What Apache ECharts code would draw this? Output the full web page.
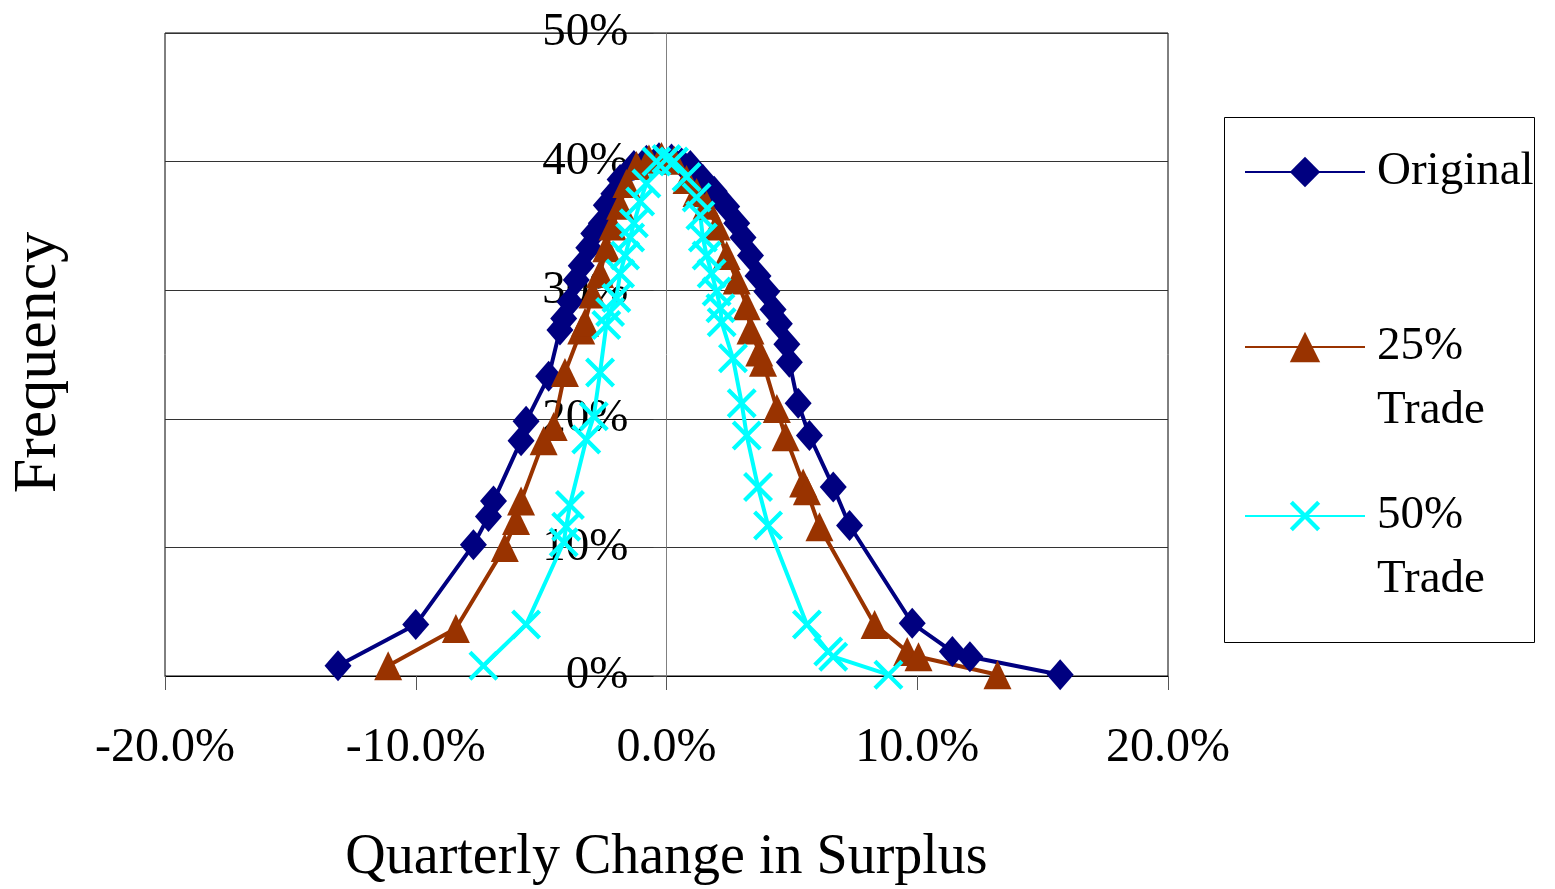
<!DOCTYPE html>
<html>
<head>
<meta charset="utf-8">
<script src="https://cdn.jsdelivr.net/npm/echarts@6/dist/echarts.min.js"></script>
<style>
html, body { margin: 0; padding: 0; background: #fff; }
#chart { width: 1555px; height: 889px; }
</style>
</head>
<body>
<div id="chart"></div>
<script>
// [quarterly change %, frequency %]
var original = [
  [-13.1, 0.8], [-10.0, 4.0], [-7.7, 10.2], [-7.1, 12.4], [-6.9, 13.6], [-5.8, 18.3],
  [-5.6, 19.8], [-4.7, 23.3], [-4.25, 26.9], [-4.1, 27.8], [-3.85, 29.1], [-3.6, 30.8],
  [-3.4, 31.9], [-3.1, 33.3], [-2.9, 34.4], [-2.6, 35.2], [-2.4, 36.6], [-2.1, 37.5],
  [-1.85, 38.6], [-1.3, 39.7], [-0.8, 40.1], [-0.3, 40.3], [0.2, 40.2], [0.6, 39.9],
  [0.95, 39.7], [1.45, 38.6], [1.9, 37.7], [2.4, 36.5], [2.8, 35.2], [3.05, 34.1],
  [3.35, 32.7], [3.65, 31.1], [4.0, 29.9], [4.25, 28.5], [4.5, 27.4], [4.8, 25.8],
  [4.9, 24.4], [5.25, 21.2], [5.7, 18.7], [6.65, 14.7], [7.3, 11.7], [9.8, 4.1],
  [11.4, 1.9], [12.1, 1.5], [15.7, 0.1]
];
var trade25 = [
  [-11.1, 0.8], [-8.4, 3.7], [-6.45, 10.0], [-6.0, 12.1], [-5.8, 13.6], [-4.9, 18.3],
  [-4.5, 19.4], [-4.05, 23.6], [-3.4, 26.9], [-3.25, 27.5], [-2.95, 29.7], [-2.65, 31.3],
  [-2.4, 33.3], [-2.15, 35.0], [-1.85, 36.6], [-1.6, 38.3], [-1.2, 39.7], [-0.7, 40.2],
  [-0.2, 40.4], [0.3, 40.1], [0.8, 38.6], [1.2, 37.6], [1.6, 36.6], [2.0, 35.0],
  [2.4, 32.7], [2.8, 30.8], [3.2, 28.8], [3.35, 26.9], [3.7, 25.2], [3.85, 24.4],
  [4.4, 20.8], [4.75, 18.6], [5.45, 15.0], [5.6, 14.4], [6.1, 11.6], [8.3, 4.0],
  [9.6, 1.9], [10.05, 1.5], [13.2, 0.1]
];
var trade50 = [
  [-7.3, 0.8], [-5.6, 4.0], [-4.1, 10.4], [-4.0, 11.6], [-3.85, 13.3], [-3.2, 18.4],
  [-2.9, 20.2], [-2.65, 23.6], [-2.4, 27.3], [-2.25, 28.3], [-2.0, 29.4], [-1.85, 31.3],
  [-1.65, 32.7], [-1.45, 34.1], [-1.3, 35.2], [-1.05, 36.9], [-0.8, 38.3], [-0.4, 40.0],
  [0.0, 40.2], [0.3, 40.0], [0.8, 38.8], [1.2, 37.2], [1.35, 35.8], [1.45, 34.1],
  [1.6, 32.7], [1.8, 31.3], [2.0, 29.9], [2.15, 28.6], [2.2, 27.5], [2.65, 24.7],
  [3.0, 21.2], [3.2, 18.7], [3.65, 14.7], [4.05, 11.7], [5.6, 4.0], [6.45, 1.9],
  [6.65, 1.5], [8.85, 0.1]
];
var seriesNames = ['Original', '25% Trade', '50% Trade'];
var seriesColors = ['#000080', '#993300', '#00FFFF'];

var font = 'Liberation Serif';
// filled "x" marker
var crossPath = 'path://M10,0L50,40L90,0L100,10L60,50L100,90L90,100L50,60L10,100L0,90L40,50L0,10Z';

var gridLeft = 165, gridWidth = 1003;

var chart = echarts.init(document.getElementById('chart'));

// one legend per item so the two-line names sit like the original box
function legendAt(name, top, twoLines) {
  return {
    data: [name],
    orient: 'vertical',
    left: 1244,
    top: top,
    padding: 0,
    itemWidth: 120,
    itemHeight: 38,
    formatter: function (n) {
      // blank first line keeps the icon level with "25%"
      return twoLines ? '\n' + n.replace(' ', '\n') : n;
    },
    textStyle: {
      fontFamily: font,
      fontSize: 47,
      color: '#000',
      lineHeight: 64,
      padding: [0, 0, 0, 7]
    }
  };
}

chart.setOption({
  animation: false,
  backgroundColor: '#fff',
  color: seriesColors,
  grid: {
    left: gridLeft, top: 33, width: gridWidth, height: 643,
    containLabel: false,
    outerBoundsMode: 'none',
    show: true, borderColor: '#000', borderWidth: 1
  },
  graphic: [{
    type: 'rect',
    shape: { x: 1224.5, y: 117.5, width: 310, height: 525 },
    style: { fill: 'none', stroke: '#000', lineWidth: 1 },
    z: -1
  }],
  legend: [
    legendAt('Original', 172 - 32, false),
    legendAt('25% Trade', 347 - 96, true),
    legendAt('50% Trade', 516 - 96, true)
  ],
  xAxis: {
    type: 'value',
    min: -20, max: 20, interval: 10,
    name: 'Quarterly Change in Surplus',
    nameLocation: 'middle',
    nameGap: 154,
    nameTextStyle: { fontFamily: font, fontSize: 56, color: '#000' },
    axisLine: { show: true, onZero: false, lineStyle: { color: '#000', width: 1 } },
    axisTick: { show: true, inside: false, length: 14, lineStyle: { color: '#555' } },
    axisLabel: {
      margin: 48,
      fontFamily: font, fontSize: 48, color: '#000',
      formatter: function (v) { return v.toFixed(1) + '%'; }
    },
    splitLine: { show: false }
  },
  yAxis: {
    type: 'value',
    min: 0, max: 50, interval: 10,
    // axis sits on x = 0, in the middle of the plot
    offset: -gridWidth / 2,
    name: 'Frequency',
    nameLocation: 'middle',
    nameGap: 597,
    nameTextStyle: { fontFamily: font, fontSize: 62, color: '#000', padding: [0, 16, 0, 0] },
    axisLine: { show: true, onZero: false, lineStyle: { color: '#808080', width: 1 } },
    axisTick: { show: true, inside: false, length: 13, lineStyle: { color: '#444' } },
    axisLabel: {
      margin: 38,
      fontFamily: font, fontSize: 47, color: '#000',
      formatter: '{value}%'
    },
    splitLine: { show: true, lineStyle: { color: '#333', width: 1 } }
  },
  series: [
    {
      name: seriesNames[0], type: 'line', data: original,
      symbol: 'diamond', symbolSize: [27, 31],
      lineStyle: { width: 4, color: seriesColors[0] },
      itemStyle: { color: seriesColors[0] }
    },
    {
      name: seriesNames[1], type: 'line', data: trade25,
      symbol: 'triangle', symbolSize: [28, 29],
      lineStyle: { width: 4, color: seriesColors[1] },
      itemStyle: { color: seriesColors[1] }
    },
    {
      name: seriesNames[2], type: 'line', data: trade50,
      symbol: crossPath, symbolSize: [30, 30],
      lineStyle: { width: 4, color: seriesColors[2] },
      itemStyle: { color: seriesColors[2] }
    }
  ]
});
</script>
</body>
</html>
